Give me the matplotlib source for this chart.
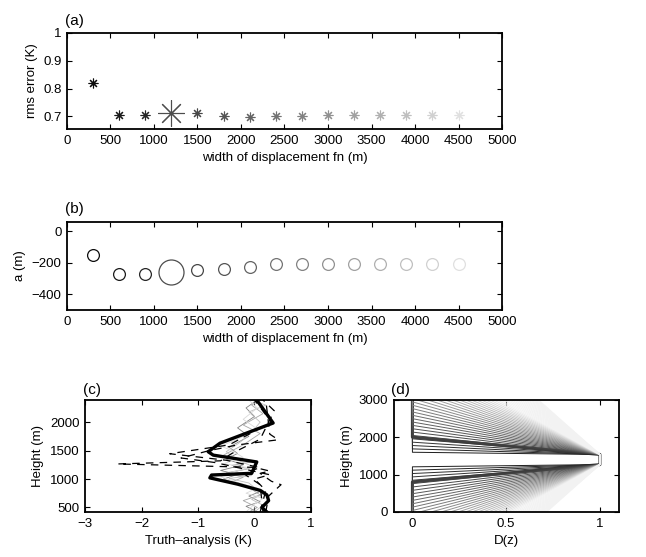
import numpy as np
import matplotlib
matplotlib.use('Agg')
import matplotlib.pyplot as plt

plt.rcParams['font.family'] = ['Liberation Sans', 'DejaVu Sans']
plt.rcParams['font.size'] = 9.5

# (a) and (b): rms error and offset a against displacement width
widths = [300, 600, 900, 1200, 1500, 1800, 2100, 2400, 2700, 3000, 3300, 3600, 3900, 4200, 4500]
rms_err = [0.820, 0.707, 0.705, 0.713, 0.711, 0.703, 0.699, 0.701, 0.703, 0.705, 0.707, 0.706, 0.706, 0.705, 0.705]
a_vals = [-150, -273, -272, -260, -245, -237, -225, -210, -205, -205, -208, -208, -210, -208, -208]
shades = [0.05, 0.10, 0.15, 0.30, 0.28, 0.33, 0.39, 0.45, 0.51, 0.57, 0.63, 0.69, 0.75, 0.82, 0.88]
best_idx = 3

# (c) truth minus analysis profiles (x in K, z in m)
thick_x = [0.22, 0.13, 0.25, 0.22, 0.10, -0.30, -0.79, -0.76, -0.05, 0.04, -0.73, -0.82, -0.61, 0.33, 0.04]
thick_z = [420, 500, 620, 720, 800, 910, 1020, 1070, 1100, 1300, 1420, 1480, 1630, 1985, 2390]

dash_x = [
    [0.20, 0.25, 0.47, 0.30, 0.10, 0.27, 0.00, -2.42, -0.60, -0.40, 0.10, 0.35, 0.15],
    [0.10, 0.20, 0.00, 0.27, -0.70, -1.30, -0.80, -0.30, 0.42, 0.27, 0.20],
    [0.15, 0.10, -0.20, 0.10, -0.50, -1.50, -0.45, 0.30, 0.00],
]
dash_z = [
    [420, 700, 900, 960, 1100, 1140, 1205, 1265, 1320, 1450, 1700, 2200, 2390],
    [420, 800, 1000, 1075, 1290, 1370, 1500, 1600, 1690, 1790, 2390],
    [420, 900, 1100, 1200, 1330, 1445, 1600, 2000, 2390],
]

gray_x = [
    [0.05, -0.15, 0.10, -0.10, 0.15, -0.20, -0.55, -0.30, -0.60, -0.20, -0.50, -0.30, -0.45, -0.10, -0.30, 0.00, -0.15, 0.05],
    [-0.10, 0.05, -0.20, 0.10, -0.05, -0.40, -0.20, -0.50, -0.10, -0.40, -0.05, -0.55, -0.20, 0.10, -0.20, 0.15, -0.05, 0.10],
    [0.00, 0.15, -0.05, 0.20, 0.00, -0.10, -0.45, -0.05, -0.35, 0.00, -0.30, -0.50, -0.25, -0.05, 0.10, -0.10, 0.20, -0.05],
    [-0.15, 0.00, 0.15, -0.15, 0.05, -0.30, -0.60, -0.40, -0.10, -0.55, -0.20, -0.40, -0.60, -0.30, 0.05, -0.20, 0.05, -0.10],
]
gray_z = [
    [420, 520, 600, 700, 800, 880, 1000, 1080, 1150, 1250, 1350, 1450, 1560, 1750, 1900, 2100, 2250, 2390],
    [420, 500, 620, 720, 820, 950, 1030, 1110, 1180, 1240, 1300, 1420, 1600, 1800, 1950, 2150, 2300, 2390],
    [420, 540, 640, 760, 850, 930, 1010, 1060, 1130, 1210, 1330, 1480, 1650, 1820, 2000, 2180, 2300, 2390],
    [420, 560, 660, 750, 840, 940, 1040, 1120, 1200, 1270, 1380, 1500, 1580, 1700, 1880, 2050, 2250, 2390],
]
gray_shade = [0.5, 0.65, 0.75, 0.85]

# (d) displacement functions D(z): flat top between z_lo and z_hi, linear ramps
z_lo, z_hi, z_top = 1270, 1540, 3000
ramps = [60, 150, 240, 330, 420, 510, 600, 690, 780, 870, 960, 1050, 1140, 1230, 1320,
         1410, 1500, 1590, 1680, 1770, 1860, 1950, 2040, 2130, 2220, 2310, 2400, 2490,
         2580, 2670, 2760, 2850, 2940, 3030, 3120, 3210, 3300, 3390, 3480, 3570, 3660,
         3750, 3840, 3930, 4020, 4110, 4200, 4290, 4380, 4470]
best_ramp = 465

fig = plt.figure(figsize=(6.46, 5.57), dpi=100)


def style(ax):
    ax.tick_params(direction='in', top=True, right=True, length=3.5, width=0.8, pad=4)
    for s in ax.spines.values():
        s.set_linewidth(1.3)


ax1 = fig.add_axes([0.1037, 0.7684, 0.6734, 0.1724])
for i, w in enumerate(widths):
    c = str(shades[i])
    big = i == best_idx
    ax1.plot(w, rms_err[i], marker=(8, 2, 0), color=c, ms=19 if big else 7,
             mew=0.8, linestyle='none')
ax1.set_xlim(0, 5000)
ax1.set_ylim(0.655, 1.0)
ax1.set_yticks([0.7, 0.8, 0.9, 1])
ax1.set_yticklabels(['0.7', '0.8', '0.9', '1'])
ax1.set_xticks(range(0, 5001, 500))
ax1.set_xlabel('width of displacement fn (m)')
ax1.set_ylabel('rms error (K)')
style(ax1)
ax1.text(-0.005, 1.05, '(a)', transform=ax1.transAxes, fontsize=11, ha='left', va='bottom')

ax2 = fig.add_axes([0.1037, 0.4434, 0.6734, 0.158])
for i, w in enumerate(widths):
    c = str(shades[i])
    big = i == best_idx
    ax2.plot(w, a_vals[i], marker='o', mfc='none', mec=c, ms=18 if big else 8.5,
             mew=0.9, linestyle='none')
ax2.set_xlim(0, 5000)
ax2.set_ylim(-500, 60)
ax2.set_yticks([-400, -200, 0])
ax2.set_yticklabels(['\u2212400', '\u2212200', '0'])
ax2.set_xticks(range(0, 5001, 500))
ax2.set_xlabel('width of displacement fn (m)')
ax2.set_ylabel('a (m)')
style(ax2)
ax2.text(-0.005, 1.07, '(b)', transform=ax2.transAxes, fontsize=11, ha='left', va='bottom')

ax3 = fig.add_axes([0.1316, 0.0808, 0.3498, 0.2011])
for gx, gz, gs in zip(gray_x, gray_z, gray_shade):
    ax3.plot(gx, gz, color=str(gs), lw=0.6)
for dx, dz in zip(dash_x, dash_z):
    ax3.plot(dx, dz, color='black', lw=0.9, dashes=(6, 5))
ax3.plot(thick_x, thick_z, color='black', lw=2.4)
ax3.set_xlim(-3, 1)
ax3.set_ylim(420, 2390)
ax3.set_xticks([-3, -2, -1, 0, 1])
ax3.set_xticklabels(['\u22123', '\u22122', '\u22121', '0', '1'])
ax3.set_yticks([500, 1000, 1500, 2000])
ax3.set_xlabel('Truth\u2013analysis (K)')
ax3.set_ylabel('Height (m)')
style(ax3)
ax3.text(-0.01, 1.03, '(c)', transform=ax3.transAxes, fontsize=11, ha='left', va='bottom')

ax4 = fig.add_axes([0.6094, 0.0808, 0.3483, 0.2011])
bx = [0, 0, 1, 1, 0, 0]
bz = [0, z_lo - best_ramp, z_lo, z_hi, z_hi + best_ramp, z_top]
ax4.plot(bx, bz, color='0.25', lw=2.2)
for r in ramps:
    g = min(0.95, 0.1 + r / 3200)
    dz = [0, z_lo - r, z_lo, z_hi, z_hi + r, z_top]
    ax4.plot(bx, dz, color=str(g), lw=0.7)
ax4.set_xlim(-0.1, 1.1)
ax4.set_ylim(0, 3000)
ax4.set_xticks([0, 0.5, 1])
ax4.set_xticklabels(['0', '0.5', '1'])
ax4.set_yticks([0, 1000, 2000, 3000])
ax4.set_xlabel('D(z)')
ax4.set_ylabel('Height (m)')
style(ax4)
ax4.text(-0.01, 1.03, '(d)', transform=ax4.transAxes, fontsize=11, ha='left', va='bottom')

fig.savefig('out.png', dpi=100)
